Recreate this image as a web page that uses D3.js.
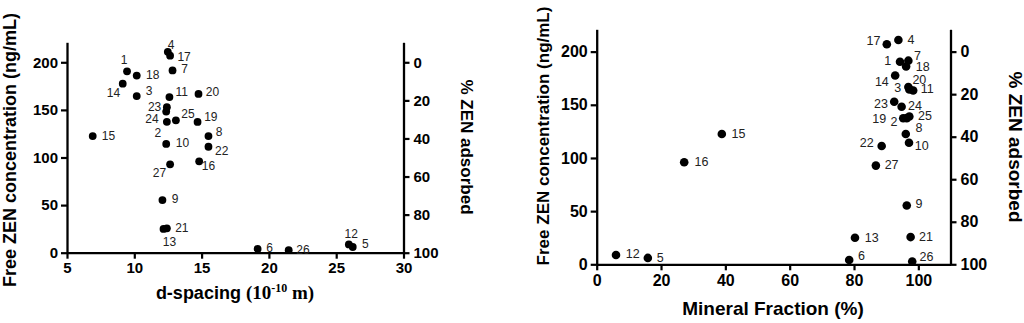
<!DOCTYPE html>
<html><head><meta charset="utf-8">
<script src="https://cdn.jsdelivr.net/npm/d3@7"></script>
<style>
html,body{margin:0;padding:0;background:#fff;}
svg{display:block;}
</style></head>
<body>
<svg id="chart" width="1024" height="323"></svg>
<script>
// ---- data ----
const pointIds = ["1","2","3","4","5","6","7","8","9","10","11","12","13","14","15","16","17","18","19","20","21","22","23","24","25","26","27"];
const freeZen = [190.5,137.5,164.5,211,6,4,191.5,122.5,55.3,114.3,163.5,8.7,25,177.5,122.5,96,207,186,137.4,166.8,25.6,111.3,152.8,148.2,139,2.6,92.8];
const dSpacing = [9.46,12.42,10.18,12.49,26.23,19.16,12.84,15.51,12.09,12.37,12.61,25.94,12.17,9.14,6.91,14.82,12.66,10.18,14.70,14.77,12.42,15.51,12.42,12.37,13.09,21.47,12.66];
const mineralFraction = [94.3,96.4,97.2,93.8,15.9,78.5,96.9,96.1,96.4,97.1,98.4,6.0,80.3,92.8,38.9,27.2,90.2,96.2,95.3,96.9,97.6,88.6,92.5,94.8,97.2,98.1,86.8];
const dTicks = [5,10,15,20,25,30];
const mineralTicks = [0,20,40,60,80,100];
const concTicks = [0,50,100,150,200];
const adsorbedTicks = [0,20,40,60,80,100];

// label placement (layout, pixels relative to each dot)
const leftLabelDx = [-3,-9,12.3,3.3,12.7,12,12,10.7,12.7,16.3,12.3,2.3,6,-9.3,15.7,9.3,14,16,13.3,14,15,13.3,-12.3,-14.3,12,14.3,-10.7];
const leftLabelDy = [-11,11.5,-4.7,-7.3,-3.3,-0.7,-1.3,-3.7,-0.7,-0.7,-4.7,-10.3,13.3,9.7,0,4.3,1.7,-0.7,-5,-2,-0.7,4,-0.7,7.7,-6.7,0,9];
const rightLabelDx = [-12.3,-12.7,-11.6,12.7,12.3,12.3,9,13.3,12.3,12.7,14,16.7,16.7,-13.3,16.7,17.3,-13.3,16.7,-23.9,11,15.3,-15,-13.3,13.3,15.7,14.3,15.7];
const rightLabelDy = [-0.7,3.7,-1,0,0,-4.3,-4.3,-6,-1.7,3.3,-1,-0.7,0,6.7,-0.3,-0.7,-2.7,0,1.1,-7.3,0,-2.7,1.7,-0.7,0,-5,-0.7];

const svg = d3.select("#chart");
const SANS = "'Liberation Sans', Arial, sans-serif";
const SERIF = "'Liberation Serif', 'Times New Roman', serif";

function panel(cfg){
  const g = svg.append("g");
  const x = d3.scaleLinear().domain(cfg.xDomain).range(cfg.xRange);
  const y = d3.scaleLinear().domain([0,221]).range(cfg.yRange);
  const yPct = d3.scaleLinear().domain([100, 100-221/2]).range(cfg.yRange);

  const styleAxis = (sel, fs) => {
    sel.select(".domain").attr("stroke","#000").attr("stroke-width",2.3);
    sel.selectAll(".tick line").attr("stroke","#000").attr("stroke-width",2.2);
    sel.selectAll(".tick text").attr("font-family",SANS).attr("font-weight","bold")
      .attr("font-size",fs).attr("fill","#000");
  };

  const xa = g.append("g").attr("transform",`translate(0,${cfg.yRange[0]})`)
    .call(d3.axisBottom(x).tickValues(cfg.xTicks).tickSize(6).tickSizeOuter(0).tickPadding(4).tickFormat(d3.format("d")));
  styleAxis(xa, cfg.tickFs);

  const ya = g.append("g").attr("transform",`translate(${cfg.xRange[0]},0)`)
    .call(d3.axisLeft(y).tickValues(concTicks).tickSize(6).tickSizeOuter(0).tickPadding(3).tickFormat(d3.format("d")));
  styleAxis(ya, cfg.tickFs);

  const xEnd = x(cfg.xDomain[1]);
  const ra = g.append("g").attr("transform",`translate(${xEnd},0)`)
    .call(d3.axisRight(yPct).tickValues(adsorbedTicks).tickSize(6).tickSizeOuter(0).tickPadding(4).tickFormat(d3.format("d")));
  styleAxis(ra, cfg.tickFs);

  // dots
  g.append("g").selectAll("circle").data(pointIds).join("circle")
    .attr("cx",(d,i)=>x(cfg.xs[i])).attr("cy",(d,i)=>y(freeZen[i]))
    .attr("r",cfg.r).attr("fill","#000");

  // labels
  g.append("g").selectAll("text").data(pointIds).join("text")
    .attr("x",(d,i)=>x(cfg.xs[i])+cfg.ldx[i]).attr("y",(d,i)=>y(freeZen[i])+cfg.ldy[i])
    .attr("text-anchor","middle").attr("dominant-baseline","central")
    .attr("font-family",SANS).attr("font-size",cfg.labelFs).attr("fill","#222")
    .text(d=>d);

  // left title
  g.append("text")
    .attr("transform",`translate(${cfg.leftTitleX},${cfg.leftTitleY}) rotate(-90)`)
    .attr("text-anchor","middle").attr("dominant-baseline","central")
    .attr("font-family",SANS).attr("font-weight","bold").attr("font-size",cfg.leftTitleFs)
    .text("Free ZEN concentration (ng/mL)");

  // right title
  g.append("text")
    .attr("transform",`translate(${cfg.rightTitleX},${cfg.rightTitleY}) rotate(90)`)
    .attr("text-anchor","middle").attr("dominant-baseline","central")
    .attr("font-family",SANS).attr("font-weight","bold").attr("font-size",cfg.rightTitleFs)
    .text("% ZEN adsorbed");
  return {g,x,y};
}

const L = panel({
  xDomain:[5,30], xRange:[67,403.5], yRange:[252.7,42.3], xs:dSpacing, xTicks:dTicks,
  r:3.9, ldx:leftLabelDx, ldy:leftLabelDy, labelFs:12, tickFs:15,
  leftTitleX:10, leftTitleY:150, leftTitleFs:18,
  rightTitleX:466, rightTitleY:147, rightTitleFs:17
});
// d-spacing title
const lt = L.g.append("text").attr("x",235).attr("y",299).attr("text-anchor","middle")
  .attr("font-weight","bold").attr("fill","#000");
lt.append("tspan").attr("font-family",SANS).attr("font-size",18).text("d-spacing ");
lt.append("tspan").attr("font-family",SERIF).attr("font-size",19).text("(10");
lt.append("tspan").attr("font-family",SERIF).attr("font-size",12).attr("dy",-7).text("-10");
lt.append("tspan").attr("font-family",SERIF).attr("font-size",19).attr("dy",7).text(" m)");

const R = panel({
  xDomain:[0,110], xRange:[596.7,950.5], yRange:[264.3,29.3], xs:mineralFraction, xTicks:mineralTicks,
  r:4.3, ldx:rightLabelDx, ldy:rightLabelDy, labelFs:12.5, tickFs:16,
  leftTitleX:543, leftTitleY:136, leftTitleFs:17,
  rightTitleX:1015, rightTitleY:147, rightTitleFs:19
});
R.g.append("text").attr("x",773).attr("y",315).attr("text-anchor","middle")
  .attr("font-family",SANS).attr("font-weight","bold").attr("font-size",19).attr("fill","#000")
  .text("Mineral Fraction (%)");
</script>
</body></html>
